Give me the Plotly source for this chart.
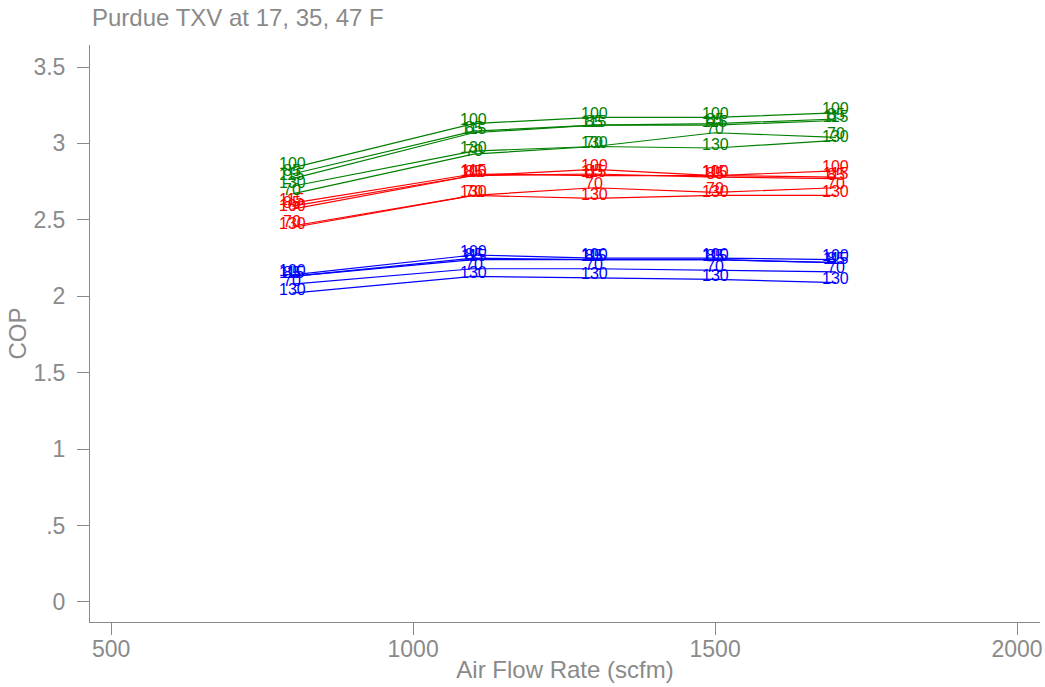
import plotly.graph_objects as go

# Air flow rates tested (scfm)
airflow = [800, 1100, 1300, 1500, 1700]

# Refrigerant charge levels (% of nominal), one line per level
charges = ["100", "85", "115", "70", "130"]

# COP at each air flow, rows follow the order of `charges`
cop_47f = [
    [2.84, 3.13, 3.17, 3.17, 3.20],
    [2.80, 3.08, 3.12, 3.13, 3.16],
    [2.77, 3.07, 3.12, 3.12, 3.15],
    [2.67, 2.93, 2.98, 3.07, 3.04],
    [2.72, 2.95, 2.98, 2.97, 3.02],
]
cop_35f = [
    [2.57, 2.79, 2.83, 2.79, 2.82],
    [2.59, 2.79, 2.80, 2.78, 2.77],
    [2.61, 2.80, 2.79, 2.79, 2.78],
    [2.46, 2.66, 2.71, 2.68, 2.71],
    [2.45, 2.66, 2.64, 2.66, 2.66],
]
cop_17f = [
    [2.14, 2.27, 2.25, 2.25, 2.24],
    [2.13, 2.25, 2.24, 2.24, 2.22],
    [2.13, 2.24, 2.24, 2.24, 2.22],
    [2.08, 2.18, 2.18, 2.17, 2.16],
    [2.02, 2.13, 2.12, 2.11, 2.09],
]

x_ticks = [500, 1000, 1500, 2000]
y_ticks = [0, 0.5, 1, 1.5, 2, 2.5, 3, 3.5]
y_tick_text = ["0", ".5", "1", "1.5", "2", "2.5", "3", "3.5"]

series = [
    (cop_17f, "#0000ff", "17 F"),
    (cop_35f, "#ff0000", "35 F"),
    (cop_47f, "#008000", "47 F"),
]

GRAY = "#8a8a8a"
FONT = "Liberation Sans, Arial, sans-serif"

fig = go.Figure()
point_labels = []
for table, color, temp in series:
    for charge, cop in zip(charges, table):
        fig.add_trace(go.Scatter(
            x=airflow,
            y=cop,
            mode="lines",
            line=dict(color=color, width=1.2),
            name=f"{temp} {charge}%",
            showlegend=False,
            hoverinfo="x+y+name",
        ))
        # charge level written at every point, nudged slightly upward
        for xv, yv in zip(airflow, cop):
            point_labels.append(dict(
                x=xv, y=yv, xref="x", yref="y",
                text=charge, showarrow=False,
                xanchor="center", yanchor="middle",
                yshift=4,
                font=dict(family=FONT, size=16, color=color),
            ))

axis_common = dict(
    showgrid=False,
    zeroline=False,
    showline=True,
    linecolor=GRAY,
    linewidth=1,
    ticks="outside",
    ticklen=12,
    tickcolor=GRAY,
    tickwidth=1,
    tickfont=dict(family=FONT, size=23, color=GRAY),
    ticklabeloverflow="allow",
)

title_note = dict(
    text="Purdue TXV at 17, 35, 47 F",
    xref="paper", yref="paper",
    x=0, y=(622 - 18) / 577,
    xanchor="left", yanchor="middle",
    showarrow=False,
    font=dict(family=FONT, size=24, color=GRAY),
)

fig.update_layout(
    width=1045,
    height=687,
    margin=dict(l=90, r=2, t=45, b=65),
    paper_bgcolor="white",
    plot_bgcolor="white",
    xaxis=dict(
        range=[465, 2038],
        tickvals=x_ticks,
        ticktext=[str(v) for v in x_ticks],
        ticklabelstandoff=-6,
        title=dict(text="Air Flow Rate (scfm)", standoff=0,
                   font=dict(family=FONT, size=24, color=GRAY)),
        **axis_common,
    ),
    yaxis=dict(
        range=[-0.131, 3.644],
        tickvals=y_ticks,
        ticktext=y_tick_text,
        ticklabelstandoff=7,
        title=dict(text="COP", standoff=0,
                   font=dict(family=FONT, size=24, color=GRAY)),
        **axis_common,
    ),
    annotations=[title_note] + point_labels,
)

fig.write_html("out.html")
